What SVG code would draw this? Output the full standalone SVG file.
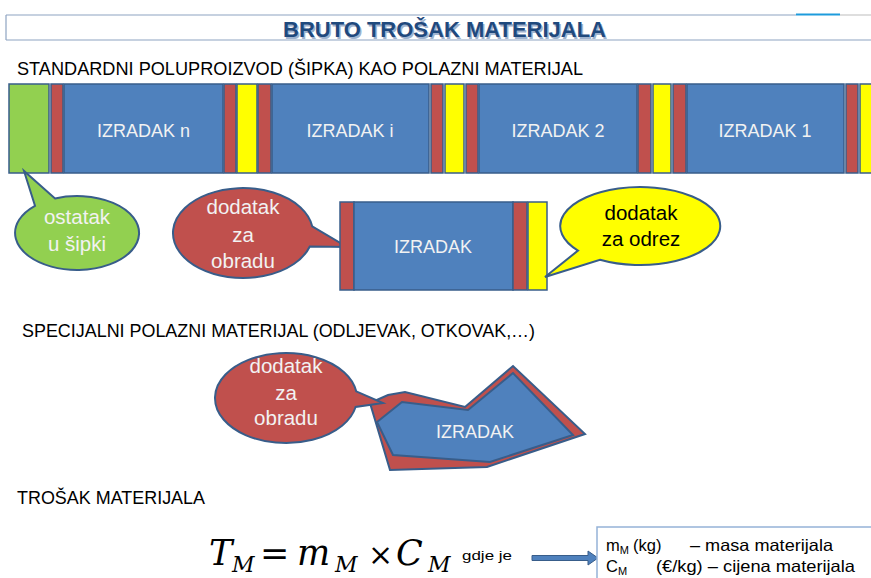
<svg xmlns="http://www.w3.org/2000/svg" width="871" height="578" viewBox="0 0 871 578">
<defs>
<style>
.ol{stroke:#385D8A;stroke-width:1.5}
.g{fill:#92D050}.r{fill:#C0504D}.b{fill:#4F81BD}.y{fill:#FFFF00}
.t{font-family:"Liberation Sans",Arial,sans-serif;font-size:18px;fill:#000}
.w{font-family:"Liberation Sans",Arial,sans-serif;font-size:18px;fill:#F2F2F2;text-anchor:middle}
.cw{font-family:"Liberation Sans",Arial,sans-serif;font-size:20.5px;fill:#F2F2F2;text-anchor:middle}
.k{font-family:"Liberation Sans",Arial,sans-serif;font-size:20.5px;fill:#000;text-anchor:middle}
.co{stroke:#385D8A;stroke-width:2}
.m{font-family:"DejaVu Serif","Liberation Serif",serif;font-style:italic;fill:#000}
.s{font-family:"Liberation Sans",Arial,sans-serif;font-size:16.5px;fill:#000}
</style>
</defs>
<rect width="871" height="578" fill="#fff"/>
<g id="title">
<line x1="6" y1="15" x2="796" y2="15" stroke="#8EA3C2" stroke-width="1.2"/>
<line x1="796" y1="14.5" x2="840" y2="14.5" stroke="#1E9BDC" stroke-width="2"/>
<line x1="840" y1="15" x2="871" y2="15" stroke="#C8C8C8" stroke-width="1.2"/>
<line x1="6" y1="15" x2="6" y2="40" stroke="#8EA3C2" stroke-width="1.2"/>
<line x1="6" y1="40" x2="871" y2="40" stroke="#8EA3C2" stroke-width="1.2"/>
<text x="284.5" y="38.5" font-family="Liberation Sans,Arial,sans-serif" font-weight="bold" font-size="22" fill="#9FB3CF" textLength="323" lengthAdjust="spacingAndGlyphs">BRUTO TROŠAK MATERIJALA</text>
<text x="283" y="37" font-family="Liberation Sans,Arial,sans-serif" font-weight="bold" font-size="22" fill="#1F497D" textLength="323" lengthAdjust="spacingAndGlyphs">BRUTO TROŠAK MATERIJALA</text>
</g>
<text class="t" x="17" y="75" textLength="566" lengthAdjust="spacingAndGlyphs">STANDARDNI POLUPROIZVOD (ŠIPKA) KAO POLAZNI MATERIJAL</text>
<g id="bar">
<rect class="g ol" x="9" y="84" width="40" height="89"/>
<rect class="r ol" x="51" y="84" width="12" height="89"/>
<rect class="b ol" x="64" y="84" width="159" height="89"/>
<rect class="r ol" x="224" y="84" width="12" height="89"/>
<rect class="y ol" x="237" y="84" width="20" height="89"/>
<rect class="r ol" x="258" y="84" width="13" height="89"/>
<rect class="b ol" x="272" y="84" width="157" height="89"/>
<rect class="r ol" x="431" y="84" width="12" height="89"/>
<rect class="y ol" x="445" y="84" width="19" height="89"/>
<rect class="r ol" x="466" y="84" width="12" height="89"/>
<rect class="b ol" x="479" y="84" width="158" height="89"/>
<rect class="r ol" x="638" y="84" width="13" height="89"/>
<rect class="y ol" x="653" y="84" width="18" height="89"/>
<rect class="r ol" x="673" y="84" width="13" height="89"/>
<rect class="b ol" x="687" y="84" width="157" height="89"/>
<rect class="r ol" x="846" y="84" width="12" height="89"/>
<rect class="y ol" x="860" y="84" width="20" height="89"/>
<text class="w" x="143.5" y="137">IZRADAK n</text>
<text class="w" x="350" y="137">IZRADAK i</text>
<text class="w" x="558" y="137">IZRADAK 2</text>
<text class="w" x="765" y="137">IZRADAK 1</text>
</g>
<g id="callout-ostatak">
<path class="g co" d="M55,198.4 A62 37 0 1 1 35,205.8 L24,171 Z"/>
<text class="cw" x="77" y="224">ostatak</text>
<text class="cw" x="77" y="251">u šipki</text>
</g>
<g id="callout-obrada1">
<path class="r co" d="M312.2,226.3 A70 45 0 1 0 309.8,246.5 L347,247 Z"/>
<text class="cw" x="243" y="214">dodatak</text>
<text class="cw" x="243" y="242">za</text>
<text class="cw" x="243" y="268">obradu</text>
</g>
<g id="izradak">
<rect class="r ol" x="340" y="202" width="14" height="88"/>
<rect class="b ol" x="354" y="202" width="159" height="88"/>
<rect class="r ol" x="513" y="202" width="14" height="88"/>
<rect class="y ol" x="528" y="202" width="19" height="88"/>
<text class="w" x="433" y="253">IZRADAK</text>
</g>
<g id="callout-odrez">
<path class="y co" d="M578,250.6 A80 39 0 1 1 600,259.8 L545,277 Z"/>
<text class="k" x="641" y="220">dodatak</text>
<text class="k" x="641" y="246">za odrez</text>
</g>
<text class="t" x="22" y="337" textLength="513" lengthAdjust="spacingAndGlyphs">SPECIJALNI POLAZNI MATERIJAL (ODLJEVAK, OTKOVAK,…)</text>
<g id="odljevak">
<polygon class="r co" points="370,403 388,395 405,392 465,407 513,366 585,434 487,467 390,470"/>
<polygon class="b co" points="377,422 402,402 468,410 513,373 573,435 490,462 393,455"/>
<text class="w" x="475" y="438">IZRADAK</text>
</g>
<g id="callout-obrada2">
<path class="r co" d="M356.2,391.3 A71 45 0 1 0 355.6,407 L383,403 Z"/>
<text class="cw" x="286" y="373">dodatak</text>
<text class="cw" x="286" y="400">za</text>
<text class="cw" x="286" y="425">obradu</text>
</g>
<text class="t" x="17" y="504" textLength="188" lengthAdjust="spacingAndGlyphs">TROŠAK MATERIJALA</text>
<g id="formula">
<text class="m" x="209" y="565" font-size="35">T</text>
<text class="m" x="232" y="572" font-size="22">M</text>
<text x="260" y="565" font-family="DejaVu Serif,serif" font-size="35">=</text>
<text class="m" x="297" y="565" font-size="35">m</text>
<text class="m" x="335" y="572" font-size="22">M</text>
<text x="368" y="565" font-family="DejaVu Serif,serif" font-size="30">×</text>
<text class="m" x="396" y="565" font-size="35">C</text>
<text class="m" x="428" y="572" font-size="22">M</text>
<text x="462" y="560" font-family="Liberation Sans,Arial,sans-serif" font-size="12" textLength="50" lengthAdjust="spacingAndGlyphs">gdje je</text>
</g>
<g id="connectors">
<path d="M532,555.5 H588 V551 L598,558 L588,565 V560.5 H532 Z" fill="#4F81BD" stroke="#385D8A" stroke-width="1"/>
</g>
<g id="legend">
<rect x="597" y="527" width="290" height="60" fill="#fff" stroke="#95B3D7" stroke-width="1.5"/>
<text class="s" x="606" y="551">m<tspan font-size="11" dy="3">M</tspan><tspan dy="-3" x="633">(kg)</tspan><tspan x="690" textLength="143" lengthAdjust="spacingAndGlyphs">– masa materijala</tspan></text>
<text class="s" x="606" y="572">C<tspan font-size="11" dy="3">M</tspan><tspan dy="-3" x="656" textLength="199" lengthAdjust="spacingAndGlyphs">(€/kg) – cijena materijala</tspan></text>
</g>
</svg>
